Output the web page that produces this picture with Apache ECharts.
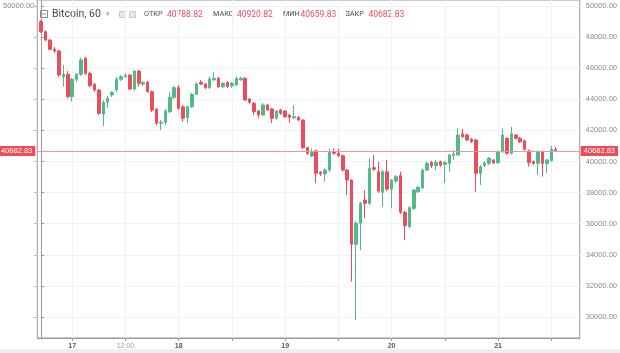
<!DOCTYPE html>
<html><head><meta charset="utf-8">
<script src="https://cdn.jsdelivr.net/npm/echarts@6/dist/echarts.min.js"></script>
<style>html,body{margin:0;padding:0;background:#fff}#c{width:620px;height:353px}</style>
</head><body><div id="c"></div>
<script>
// ---- data (hourly candles, Bitcoin 60) ----
const open = [
48990,48350,47810,47220,47110,45450,45610,44170,45290,45610,
46640,45670,44960,44600,43050,43810,44280,44600,45290,45450,
45560,44660,45820,44980,45090,44490,43360,42460,42520,43200,
44130,44750,43520,42820,43520,44320,45090,44980,44750,45260,
45350,44810,45090,44870,44920,45260,45350,44020,43740,43250,
42990,43630,43380,42780,43310,43250,42990,42820,42840,42670,
40890,40350,40690,39310,39200,39450,40630,40530,40370,39450,
38810,34680,36030,37520,37310,39600,39340,38020,39340,38230,
38750,39090,36730,35810,36990,38060,38310,39450,39950,39740,
39990,39810,39880,40390,40420,41770,41700,41430,41380,39240,
39740,39880,40100,39920,40630,41490,40530,41700,41490,41340,
40690,39990,39880,40630,39880,40050,40788.82];
const close = [
48350,47810,47220,47110,45560,45610,44170,45290,45610,46530,
45670,44870,44600,43100,43810,44060,44450,45290,45450,45530,
44660,45820,45030,45070,44490,43310,42460,42520,43250,44130,
44750,43420,42780,43520,44320,44980,44980,44750,45310,45350,
44810,45030,44810,45030,45350,45350,43950,43810,43200,42990,
43630,43310,42780,43250,43100,42880,42840,42880,42670,40890,
40510,40590,39240,39200,39450,40590,40530,40370,39450,38810,
34680,36030,37310,37310,39560,39500,38100,39340,38230,38810,
39020,36730,35870,37030,38170,38340,39450,39880,39730,39940,
39770,39940,40420,40480,41700,41590,41380,41270,39240,39670,
39900,40210,39920,40630,41700,40530,41770,41490,41270,40780,
39920,39880,40630,39880,40100,40780,40682.83];
const low = [
48260,47720,47140,46980,45450,44810,44060,43850,45110,45500,
45560,44790,44470,42990,42280,43440,44150,44470,45180,45370,
44600,44570,44810,44860,44410,43180,42350,42030,42350,43120,
44020,43310,42560,42460,43440,44280,44920,44660,44660,45180,
44730,44730,44730,44730,44860,45180,43890,43700,42990,42780,
42930,43250,42460,42700,42990,42800,42480,42730,42600,40800,
40420,40290,38600,39070,38700,39320,40420,40290,39360,37850,
32270,29810,34310,36370,37200,39390,37970,37090,38100,36990,
38620,36620,34950,35700,36880,37970,38230,39390,39580,39450,
39650,38600,39340,40100,40350,41510,41320,41190,38060,38490,
39650,39770,39840,39840,40550,40420,40450,41410,41190,40710,
39670,39770,39130,39020,39260,40000,40659.83];
const high = [
49100,48420,47880,47360,47170,46210,45820,45370,45690,46680,
46740,45760,45050,44660,43950,44210,44530,45450,45560,45690,
45630,45880,45880,45180,45180,44570,43440,42670,43380,44470,
44860,44920,43630,43600,44410,45090,45240,45050,45450,45740,
45430,45110,45180,45110,45450,45450,45430,44080,43830,43310,
43760,43700,43440,43310,43380,43310,43050,43630,42930,42730,
40960,40850,40770,39390,39580,40850,40850,40840,40450,39520,
38870,36170,37400,38170,40220,40420,39990,39450,40100,38870,
39130,39340,36820,37140,38230,38420,39550,40000,40030,40100,
40060,40030,40480,40740,42150,42090,41800,41510,41450,39770,
40030,40290,40160,40710,42130,41580,42240,41770,41580,41410,
40770,40060,40710,40710,40160,41000,40920.82];
// y-axis tick values and x-axis tick labels (x ticks every 12 candles)
const yTicks = [30000,32000,34000,36000,38000,40000,42000,44000,46000,48000,50000];
const leftLabels = [50000];
const xTickIndex = [7,19,31,43,55,67,79,91,103,115];
const xTickText  = ['17','12:00','18','','19','','20','','21',''];
const headerLabels = ['ОТКР','МАКС','МИН','ЗАКР'];

// ---- build ----
const n = open.length;
const candles = [];
for (let i = 0; i < n; i++) candles.push([i, open[i], close[i], low[i], high[i]]);
const last = n - 1;
const lastClose = close[last];
const headerVals = [open[last], high[last], low[last], close[last]];
const labelIdx = xTickIndex.filter((v, k) => xTickText[k] !== '');

const UP = '#53b987', DOWN = '#eb4d5c';
const chart = echarts.init(document.getElementById('c'), null, {renderer: 'canvas'});

const hdrX = [144, 213, 283, 345.5];
const valX = [167, 237, 300.5, 368.5];
const graphics = [
  {type:'rect', shape:{x:40.5,y:10.5,width:7,height:7}, style:{fill:'none', stroke:'#8a8a8a', lineWidth:1}},
  {type:'line', shape:{x1:42,y1:14,x2:46,y2:14}, style:{stroke:'#8a8a8a', lineWidth:1}},
  {type:'text', x:52, y:14.5, style:{text:'Bitcoin, 60', fontSize:10.5, fontFamily:'Roboto', fill:'#4a4a4a', verticalAlign:'middle'}},
  {type:'text', x:106, y:14, style:{text:'▾', fontSize:7, fontFamily:'DejaVu Sans', fill:'#a0a0a0', verticalAlign:'middle'}},
  {type:'rect', shape:{x:119.5,y:11.5,width:6,height:6}, style:{fill:'#e6e6e6', stroke:'#cccccc', lineWidth:1}},
  {type:'rect', shape:{x:129.5,y:11.5,width:6,height:6}, style:{fill:'#e6e6e6', stroke:'#cccccc', lineWidth:1}},
  {type:'rect', shape:{x:0,y:349,width:620,height:4}, style:{fill:'#eceef1'}}
];
headerLabels.forEach((t, k) => {
  graphics.push({type:'text', x:hdrX[k], y:14.5, style:{text:t, fontSize:7.3, fontFamily:'Roboto', fill:'#4a4a4a', verticalAlign:'middle'}});
  graphics.push({type:'text', x:valX[k], y:14.5, style:{text:headerVals[k].toFixed(2), fontSize:8.5, fontFamily:'Roboto', fill:DOWN, verticalAlign:'middle'}});
});

chart.setOption({
  animation: false,
  backgroundColor: '#ffffff',
  grid: {left: 37, right: 39.3, top: 0, bottom: 15, show: true, borderColor: '#9a9a9a', borderWidth: 1, backgroundColor: 'transparent'},
  xAxis: {
    type: 'value', min: -0.877, max: 121.41,
    axisLine: {show: true, lineStyle: {color: '#9a9a9a', width: 1}},
    axisTick: {show: true, inside: false, length: 3, customValues: xTickIndex, lineStyle: {color: '#9a9a9a'}},
    minorTick: {show: false},
    splitLine: {show: true, lineStyle: {color: '#f1f2f4', width: 1}},
    axisLabel: {
      customValues: labelIdx, margin: 5, fontSize: 7, fontFamily: 'Liberation Sans',
      formatter: v => { const k = xTickIndex.indexOf(Math.round(v)); const t = xTickText[k]; return t.indexOf(':') >= 0 ? '{t|' + t + '}' : '{d|' + t + '}'; },
      rich: {d: {fontSize: 7, fontWeight: 'bold', color: '#555555', fontFamily: 'Liberation Sans'}, t: {fontSize: 7, color: '#9a9a9a', fontFamily: 'Liberation Sans'}}
    }
  },
  yAxis: [{
    type: 'value', position: 'right', min: 28650, max: 50386, scale: true,
    axisLine: {show: true, lineStyle: {color: '#9a9a9a', width: 1}},
    axisTick: {show: true, inside: false, length: 3, customValues: yTicks, lineStyle: {color: '#9a9a9a'}},
    minorTick: {show: false},
    splitLine: {show: true, lineStyle: {color: '#f1f2f4', width: 1}},
    axisLabel: {customValues: yTicks, margin: 6, fontSize: 7.5, color: '#8a8a8a', fontFamily: 'Liberation Sans', formatter: v => v.toFixed(2)}
  }, {
    type: 'value', position: 'left', min: 28650, max: 50386, scale: true,
    axisLine: {show: false},
    axisTick: {show: true, inside: false, length: 3, customValues: yTicks, lineStyle: {color: '#b0b0b0'}},
    minorTick: {show: false},
    splitLine: {show: false},
    axisLabel: {customValues: leftLabels, margin: 3, fontSize: 7.5, color: '#8a8a8a', fontFamily: 'Liberation Sans', formatter: v => v.toFixed(2)}
  }],
  series: [{
    type: 'candlestick',
    data: candles,
    encode: {x: 0, y: [1, 2, 3, 4]},
    barWidth: 3,
    itemStyle: {color: UP, color0: DOWN, borderColor: UP, borderColor0: DOWN, borderWidth: 1},
    markLine: {
      silent: true, symbol: ['none', 'none'], animation: false,
      lineStyle: {color: '#ef97a0', type: 'solid', width: 1, opacity: 1},
      emphasis: {disabled: true},
      data: [
        {yAxis: lastClose, lineStyle: {color: '#ef97a0', type: 'solid', width: 1}, label: {position: 'end', distance: 1}},
        {yAxis: lastClose, lineStyle: {color: '#ef97a0', type: 'solid', width: 1}, label: {position: 'start', distance: 2}}
      ],
      label: {formatter: p => lastClose.toFixed(2), color: '#ffffff', backgroundColor: DOWN, padding: [1, 3, 1, 3], fontSize: 7.5, fontFamily: 'Liberation Sans'}
    }
  }],
  graphic: graphics
});
</script></body></html>
